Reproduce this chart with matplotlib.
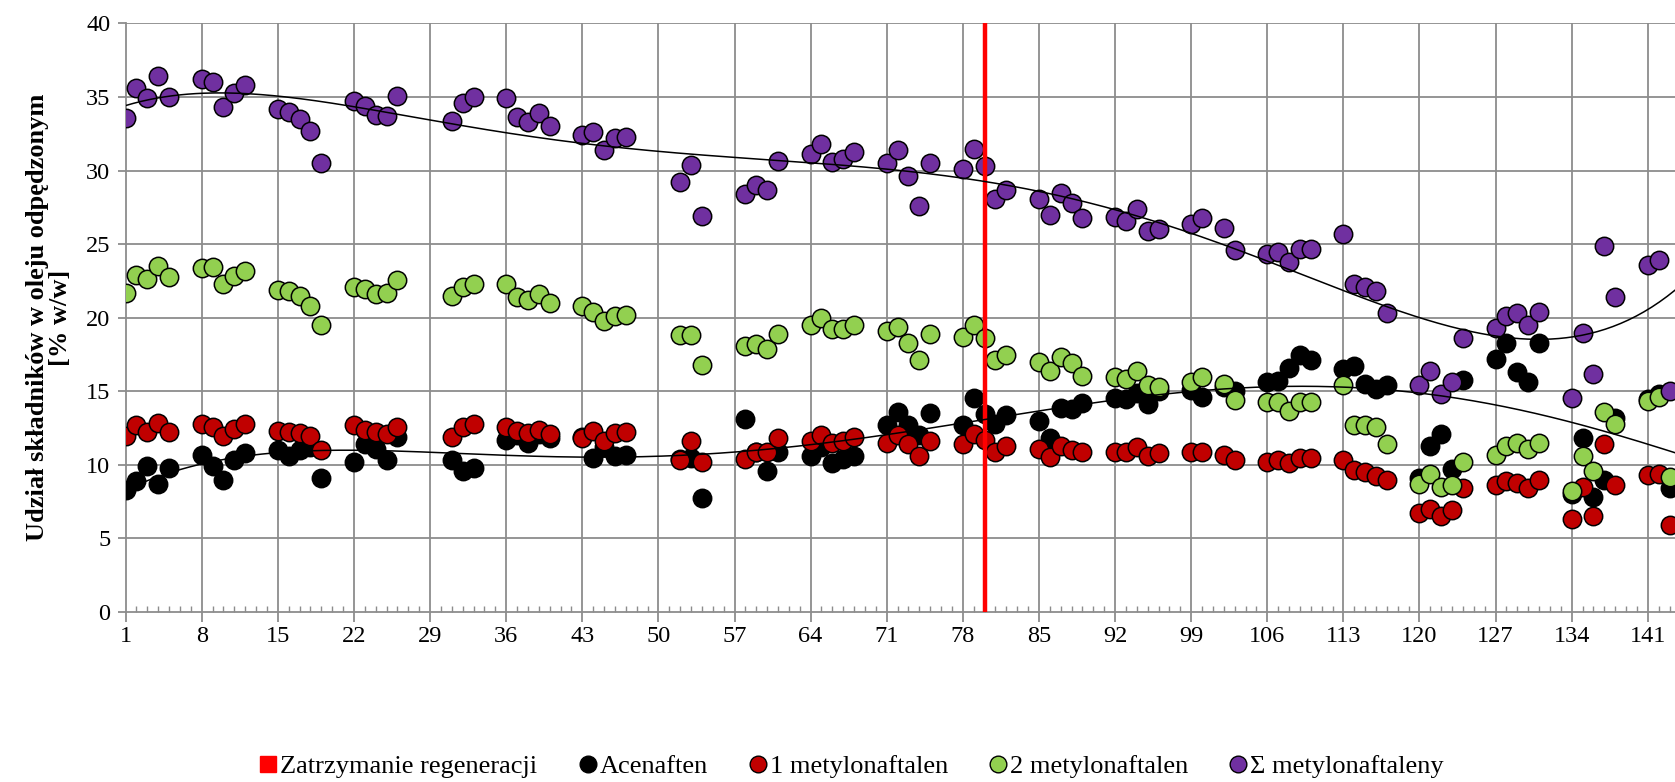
import numpy as np
import matplotlib
matplotlib.use("Agg")
import matplotlib.pyplot as plt
from matplotlib.lines import Line2D
from matplotlib.ticker import MultipleLocator, FixedLocator

plt.rcParams['font.family'] = ['Liberation Serif', 'DejaVu Serif']

# dzien pomiaru
days = [1, 2, 3, 4, 5, 8, 9, 10, 11, 12, 15, 16, 17, 18, 19, 22, 23, 24, 25, 26,
        31, 32, 33, 36, 37, 38, 39, 40, 43, 44, 45, 46, 47, 52, 53, 54,
        58, 59, 60, 61, 64, 65, 66, 67, 68, 71, 72, 73, 74, 75, 78, 79, 80, 81, 82,
        85, 86, 87, 88, 89, 92, 93, 94, 95, 96, 99, 100, 102, 103,
        106, 107, 108, 109, 110, 113, 114, 115, 116, 117, 120, 121, 122, 123, 124,
        127, 128, 129, 130, 131, 134, 135, 136, 137, 138, 141, 142, 143]

acenaften = [8.26, 8.9, 9.95, 8.7, 9.8, 10.7, 9.9, 9.0, 10.3, 10.8, 11.0, 10.6, 11.0, 11.2, 9.1,
             10.2, 11.4, 11.1, 10.3, 11.9, 10.3, 9.6, 9.8, 11.7, 12.0, 11.5, 12.1, 11.8,
             11.9, 10.45, 11.2, 10.6, 10.7, 10.4, 10.5, 7.75, 13.15, 10.9, 9.55, 10.9,
             10.6, 11.2, 10.1, 10.4, 10.6, 12.7, 13.6, 12.7, 12.0, 13.5, 12.7, 14.55, 13.45, 12.8, 13.4,
             13.0, 11.8, 13.85, 13.8, 14.2, 14.55, 14.5, 14.9, 14.15, 15.0, 15.1, 14.6, 15.3, 15.0,
             15.6, 15.7, 16.6, 17.5, 17.1, 16.5, 16.75, 15.5, 15.15, 15.4, 9.1, 11.3, 12.1, 9.7, 15.8,
             17.2, 18.25, 16.3, 15.65, 18.25, 8.0, 11.8, 7.8, 9.0, 13.2, 14.5, 14.8, 8.4]

metyl1 = [11.95, 12.7, 12.2, 12.85, 12.25, 12.75, 12.55, 11.95, 12.45, 12.75, 12.3, 12.2, 12.15, 11.95, 11.0,
          12.7, 12.4, 12.2, 12.1, 12.6, 11.9, 12.6, 12.75, 12.55, 12.3, 12.15, 12.35, 12.1,
          11.8, 12.3, 11.65, 12.15, 12.2, 10.35, 11.6, 10.2, 10.4, 10.9, 10.85, 11.8,
          11.6, 12.0, 11.5, 11.6, 11.9, 11.5, 12.0, 11.4, 10.6, 11.6, 11.4, 12.1, 11.7, 10.9, 11.25,
          11.1, 10.55, 11.3, 11.0, 10.85, 10.9, 10.85, 11.2, 10.6, 10.8, 10.9, 10.9, 10.7, 10.3,
          10.2, 10.35, 10.1, 10.5, 10.5, 10.35, 9.65, 9.5, 9.25, 8.95, 6.75, 7.0, 6.5, 6.95, 8.4,
          8.65, 8.9, 8.75, 8.4, 9.0, 6.3, 8.5, 6.55, 11.4, 8.65, 9.3, 9.4, 5.9]

metyl2 = [21.7, 22.9, 22.6, 23.5, 22.8, 23.4, 23.45, 22.3, 22.85, 23.2, 21.9, 21.8, 21.45, 20.8, 19.5,
          22.1, 21.95, 21.6, 21.7, 22.55, 21.5, 22.1, 22.3, 22.3, 21.4, 21.2, 21.6, 21.0,
          20.8, 20.4, 19.8, 20.1, 20.2, 18.85, 18.85, 16.8, 18.05, 18.2, 17.9, 18.9,
          19.5, 19.95, 19.2, 19.2, 19.5, 19.1, 19.4, 18.3, 17.1, 18.9, 18.7, 19.5, 18.6, 17.1, 17.5,
          17.0, 16.4, 17.3, 16.9, 16.05, 16.0, 15.85, 16.35, 15.4, 15.3, 15.6, 16.0, 15.5, 14.4,
          14.25, 14.25, 13.65, 14.3, 14.3, 15.4, 12.7, 12.7, 12.6, 11.45, 8.7, 9.4, 8.5, 8.65, 10.2,
          10.65, 11.3, 11.5, 11.1, 11.5, 8.25, 10.6, 9.6, 13.6, 12.8, 14.35, 14.6, 9.2]

suma = [33.6, 35.6, 34.9, 36.4, 35.0, 36.2, 36.0, 34.3, 35.3, 35.8, 34.2, 34.0, 33.5, 32.7, 30.5,
        34.75, 34.4, 33.8, 33.7, 35.1, 33.4, 34.6, 35.0, 34.9, 33.66, 33.3, 33.9, 33.0,
        32.4, 32.6, 31.4, 32.2, 32.3, 29.2, 30.4, 26.9, 28.4, 29.05, 28.7, 30.65,
        31.1, 31.8, 30.6, 30.8, 31.25, 30.5, 31.4, 29.6, 27.6, 30.5, 30.1, 31.5, 30.3, 28.05, 28.7,
        28.05, 27.0, 28.5, 27.8, 26.8, 26.85, 26.6, 27.4, 25.9, 26.05, 26.4, 26.8, 26.1, 24.6,
        24.35, 24.5, 23.8, 24.7, 24.7, 25.7, 22.3, 22.1, 21.8, 20.35, 15.45, 16.4, 14.85, 15.6, 18.65,
        19.3, 20.1, 20.35, 19.5, 20.4, 14.55, 18.95, 16.2, 24.9, 21.4, 23.6, 23.9, 15.0]

stop_day = 80
labels = ['Zatrzymanie regeneracji', 'Acenaften', '1 metylonaftalen', '2 metylonaftalen', 'Σ metylonaftaleny']
colors = ['#000000', '#C00000', '#92D050', '#7030A0']

fig = plt.figure(figsize=(16.75, 7.82), dpi=100)
ax = fig.add_axes([0.075, 0.2174, 0.925, 0.7526])

grid_c = '#8c8c8c'
for y in range(5, 41, 5):
    ax.axhline(y, color=grid_c, lw=1.3, zorder=0)
for x in range(8, 142, 7):
    ax.axvline(x, color=grid_c, lw=1.3, zorder=0)

series = [acenaften, metyl1, metyl2, suma]
for vals, c in zip(series, colors):
    ax.scatter(days, vals, s=175, c=c, edgecolors='black', linewidths=1.1, zorder=3)

ax.axvline(stop_day, color='#FF0000', lw=3.2, zorder=4)

# linie trendu (wielomian 5 st.)
xx = np.linspace(1, 143.5, 400)
for vals in (acenaften, suma):
    p = np.polynomial.Polynomial.fit(days, vals, 5)
    ax.plot(xx, p(xx), color='black', lw=1.1, zorder=5)

ax.set_xlim(1, 143.5)
ax.set_ylim(0, 40)
ax.xaxis.set_major_locator(FixedLocator(list(range(1, 142, 7))))
ax.xaxis.set_minor_locator(MultipleLocator(1))
ax.yaxis.set_major_locator(MultipleLocator(5))
ax.tick_params(axis='x', which='major', direction='out', length=7, color=grid_c, width=1.3,
               labelsize=17.5, pad=3)
ax.tick_params(axis='x', which='minor', direction='in', length=4, color=grid_c, width=1)
ax.tick_params(axis='y', which='major', direction='out', length=6, color=grid_c, width=1.3,
               labelsize=17.5, pad=5)
for s in ('top', 'right'):
    ax.spines[s].set_visible(False)
for s in ('left', 'bottom'):
    ax.spines[s].set_color(grid_c)
    ax.spines[s].set_linewidth(1.3)

fig.text(0.029, 0.594, 'Udział składników w oleju odpędzonym\n[% w/w]', rotation=90,
         ha='center', va='center', fontsize=19, fontweight='bold', linespacing=1.0)

handles = [Line2D([], [], ls='none', marker='s', ms=11, mfc='#FF0000', mec='#FF0000')]
for c in colors:
    handles.append(Line2D([], [], ls='none', marker='o', ms=12, mfc=c, mec='black', mew=1))
fig.legend(handles, labels, loc='center', bbox_to_anchor=(0.508, 0.02), ncol=5, frameon=False,
           fontsize=19, handletextpad=0.05, columnspacing=1.5, handlelength=0.8)

fig.savefig('out.png', dpi=100)
